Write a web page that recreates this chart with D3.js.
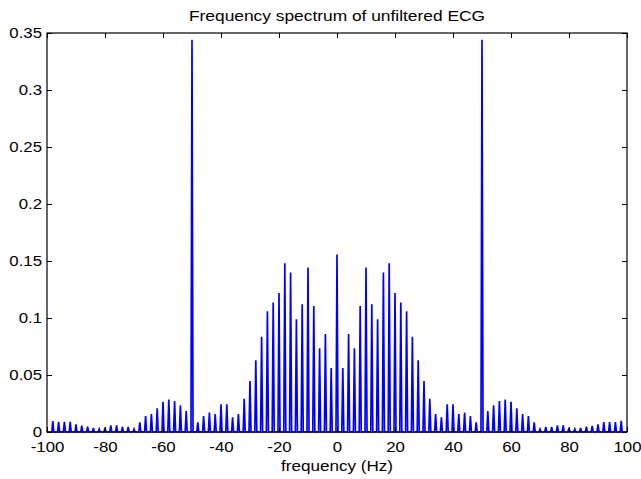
<!DOCTYPE html>
<html>
<head>
<meta charset="utf-8">
<script src="https://cdn.jsdelivr.net/npm/d3@7"></script>
<style>
  body { margin: 0; background: #fff; }
  svg { display: block; }
  text { font-family: Arial, "Liberation Sans", sans-serif; }
</style>
</head>
<body>
<svg width="641" height="479"></svg>
<script>
// harmonic frequencies (Hz) of the spectrum
var freqs = [-98, -96, -94, -92, -90, -88, -86, -84, -82, -80, -78, -76, -74, -72, -70,
	-68, -66, -64, -62, -60, -58, -56, -54, -52, -50, -48, -46, -44, -42, -40, -38, -36,
	-34, -32, -30, -28, -26, -24, -22, -20, -18, -16, -14, -12, -10, -8, -6, -4, -2, 0,
	2, 4, 6, 8, 10, 12, 14, 16, 18, 20, 22, 24, 26, 28, 30, 32, 34, 36, 38, 40, 42, 44,
	46, 48, 50, 52, 54, 56, 58, 60, 62, 64, 66, 68, 70, 72, 74, 76, 78, 80, 82, 84, 86,
	88, 90, 92, 94, 96, 98];

// magnitude at each harmonic
var magnitudes = [0.0096, 0.0090, 0.0090, 0.0090, 0.0067, 0.0055, 0.0047, 0.0035, 0.0026,
	0.0038, 0.0058, 0.0058, 0.0044, 0.0044, 0.0026, 0.0085, 0.0140, 0.0158, 0.0208, 0.0266,
	0.0284, 0.0272, 0.0234, 0.0184, 0.344, 0.0085, 0.0140, 0.0170, 0.0158, 0.0243, 0.0243,
	0.0129, 0.0158, 0.0292, 0.0447, 0.0630, 0.0836, 0.1060, 0.1135, 0.1220, 0.1480, 0.1400,
	0.0990, 0.1120, 0.1444, 0.1105, 0.0734, 0.0860, 0.0561, 0.1556,
	0.0561, 0.0860, 0.0734, 0.1105, 0.1444, 0.1120, 0.0990, 0.1400, 0.1480, 0.1220, 0.1135,
	0.1060, 0.0836, 0.0630, 0.0447, 0.0292, 0.0158, 0.0129, 0.0243, 0.0243, 0.0158, 0.0170,
	0.0140, 0.0085, 0.344, 0.0184, 0.0234, 0.0272, 0.0284, 0.0266, 0.0208, 0.0158, 0.0140,
	0.0085, 0.0026, 0.0044, 0.0044, 0.0058, 0.0058, 0.0038, 0.0026, 0.0035, 0.0047, 0.0053,
	0.0067, 0.0088, 0.0088, 0.0088, 0.0099];

var xTicks = [-100, -80, -60, -40, -20, 0, 20, 40, 60, 80, 100];
var yTicks = [0, 0.05, 0.1, 0.15, 0.2, 0.25, 0.3, 0.35];
var yTickLabels = ["0", "0.05", "0.1", "0.15", "0.2", "0.25", "0.3", "0.35"];

var titleText = "Frequency spectrum of unfiltered ECG";
var xLabelText = "frequency (Hz)";

var padL = 47, padR = 627, padT = 33, padB = 432;
var tickLen = 5;
var fontSize = 14;
var stretch = 1.2; // the reference glyphs are wider than Arial

var svg = d3.select("svg");

var xScale = d3.scaleLinear().domain([-100, 100]).range([padL, padR]);
var yScale = d3.scaleLinear().domain([0, 0.35]).range([padB, padT]);

// build the spectrum as narrow peaks joined along zero
var pts = [[-100, 0]];
freqs.forEach(function(f, i) {
	pts.push([f - 0.35, 0]);
	pts.push([f, magnitudes[i]]);
	pts.push([f + 0.35, 0]);
});
pts.push([100, 0]);

var line = d3.line()
	.x(function(d) { return xScale(d[0]); })
	.y(function(d) { return yScale(d[1]); });

svg.append("path")
	.datum(pts)
	.attr("d", line)
	.attr("fill", "none")
	.attr("stroke", "#0000ff")
	.attr("stroke-width", 1.7)
	.attr("stroke-linejoin", "miter");

// axes with inward ticks on all four sides
var xAxisBottom = d3.axisBottom(xScale).tickValues(xTicks).tickSize(-tickLen).tickPadding(10)
	.tickFormat(function(d) { return String(d); });
var xAxisTop = d3.axisTop(xScale).tickValues(xTicks).tickSize(-tickLen).tickFormat("");
var yAxisLeft = d3.axisLeft(yScale).tickValues(yTicks).tickSize(-tickLen).tickPadding(5)
	.tickFormat(function(d, i) { return yTickLabels[i]; });
var yAxisRight = d3.axisRight(yScale).tickValues(yTicks).tickSize(-tickLen).tickFormat("");

function widen(sel) {
	sel.each(function() {
		var w = this.getComputedTextLength();
		if (w > 0) {
			d3.select(this).attr("textLength", w * stretch).attr("lengthAdjust", "spacingAndGlyphs");
		}
	});
}

function styleAxis(g) {
	g.select(".domain").remove();
	g.selectAll(".tick line").attr("stroke", "#000");
	g.selectAll("text").attr("fill", "#000").attr("font-size", fontSize)
		.attr("font-family", "Arial, 'Liberation Sans', sans-serif");
	widen(g.selectAll("text"));
}

svg.append("g").attr("transform", "translate(0," + padB + ")").call(xAxisBottom).call(styleAxis);
svg.append("g").attr("transform", "translate(0," + padT + ")").call(xAxisTop).call(styleAxis);
svg.append("g").attr("transform", "translate(" + padL + ",0)").call(yAxisLeft).call(styleAxis);
svg.append("g").attr("transform", "translate(" + padR + ",0)").call(yAxisRight).call(styleAxis);

// box
svg.append("rect")
	.attr("x", padL)
	.attr("y", padT)
	.attr("width", padR - padL)
	.attr("height", padB - padT)
	.attr("fill", "none")
	.attr("stroke", "#000")
	.attr("stroke-width", 1.2);

// title and x label
svg.append("text")
	.attr("x", (padL + padR) / 2)
	.attr("y", 21)
	.attr("text-anchor", "middle")
	.attr("font-size", fontSize)
	.attr("textLength", 296)
	.attr("lengthAdjust", "spacingAndGlyphs")
	.text(titleText);

svg.append("text")
	.attr("x", (padL + padR) / 2)
	.attr("y", 471)
	.attr("text-anchor", "middle")
	.attr("font-size", fontSize)
	.attr("textLength", 112)
	.attr("lengthAdjust", "spacingAndGlyphs")
	.text(xLabelText);
</script>
</body>
</html>
